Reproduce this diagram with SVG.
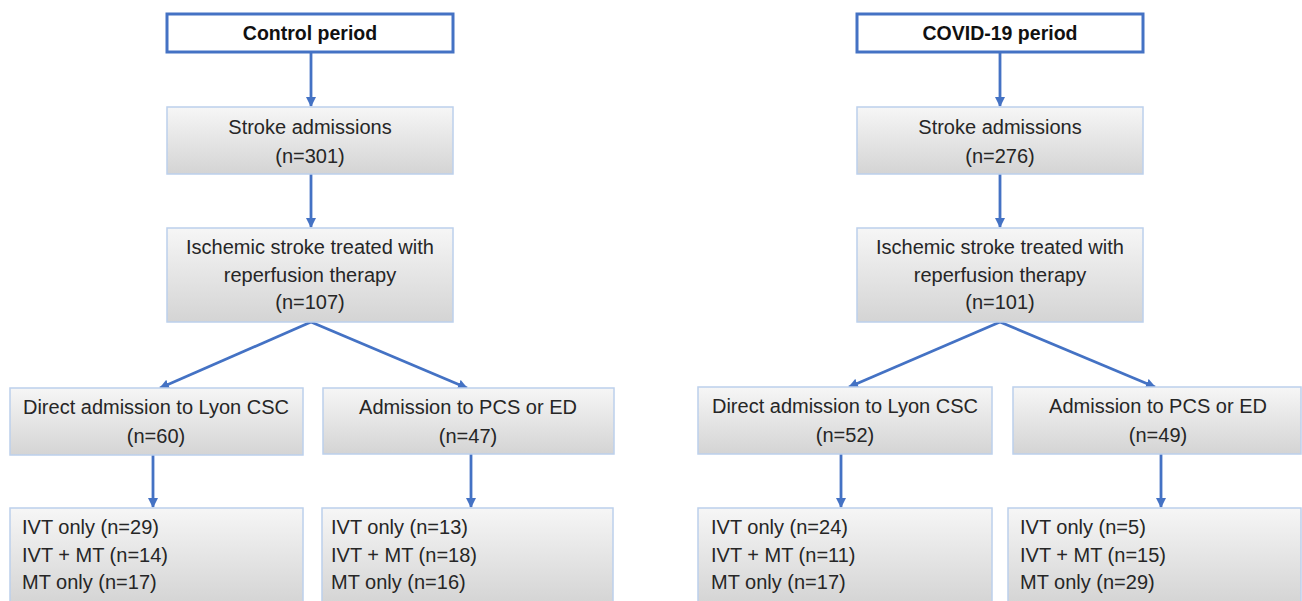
<svg xmlns="http://www.w3.org/2000/svg" width="1302" height="601" viewBox="0 0 1302 601">
<defs>
<linearGradient id="g" x1="0" y1="0" x2="0" y2="1">
<stop offset="0" stop-color="#f6f6f6"/>
<stop offset="1" stop-color="#d4d4d4"/>
</linearGradient>
<marker id="ah" markerWidth="10" markerHeight="10" refX="9" refY="5" orient="auto" markerUnits="userSpaceOnUse">
<path d="M0,0 L10,5 L0,10 Z" fill="#4472c4"/>
</marker>
<style>
.hdr{fill:#ffffff;stroke:#4472c4;stroke-width:3}
.box{fill:url(#g);stroke:#bcd0ec;stroke-width:1.5}
.t{font-family:"Liberation Sans",Arial,sans-serif;font-size:20px;fill:#262626}
.c{text-anchor:middle}
.b{font-weight:bold;font-size:19.5px;fill:#111}
.cn{stroke:#4472c4;stroke-width:2.8;fill:none;marker-end:url(#ah)}
</style>
</defs>
<rect width="1302" height="601" fill="#ffffff"/>

<g id="connectors">
<line class="cn" x1="311" y1="52" x2="311" y2="106"/>
<line class="cn" x1="311" y1="174" x2="311" y2="227"/>
<line class="cn" x1="311" y1="322" x2="160" y2="388"/>
<line class="cn" x1="311" y1="322" x2="467" y2="388"/>
<line class="cn" x1="153" y1="455" x2="153" y2="507"/>
<line class="cn" x1="471" y1="454" x2="471" y2="507"/>
<line class="cn" x1="1000" y1="52" x2="1000" y2="106"/>
<line class="cn" x1="1000" y1="174" x2="1000" y2="227"/>
<line class="cn" x1="1000" y1="322" x2="849" y2="387"/>
<line class="cn" x1="1000" y1="322" x2="1155" y2="387"/>
<line class="cn" x1="841" y1="454" x2="841" y2="507"/>
<line class="cn" x1="1161" y1="454" x2="1161" y2="507"/>
</g>

<g id="control-period">
<rect class="hdr" x="167" y="14" width="286" height="38"/>
<text class="t c b" x="310" y="40">Control period</text>
</g>
<g id="control-stroke">
<rect class="box" x="167" y="107" width="286" height="67"/>
<text class="t c" x="310" y="134">Stroke admissions</text>
<text class="t c" x="310" y="163">(n=301)</text>
</g>
<g id="control-ischemic">
<rect class="box" x="167" y="228" width="286" height="94"/>
<text class="t c" x="310" y="254">Ischemic stroke treated with</text>
<text class="t c" x="310" y="282">reperfusion therapy</text>
<text class="t c" x="310" y="309">(n=107)</text>
</g>
<g id="control-direct">
<rect class="box" x="10" y="388" width="293" height="67"/>
<text class="t c" x="156" y="414">Direct admission to Lyon CSC</text>
<text class="t c" x="156" y="443">(n=60)</text>
</g>
<g id="control-pcs">
<rect class="box" x="323" y="388" width="291" height="66"/>
<text class="t c" x="468" y="414">Admission to PCS or ED</text>
<text class="t c" x="468" y="443">(n=47)</text>
</g>
<g id="control-direct-tx">
<rect class="box" x="10" y="508" width="293" height="96"/>
<text class="t" x="22" y="534">IVT only (n=29)</text>
<text class="t" x="22" y="562">IVT + MT (n=14)</text>
<text class="t" x="22" y="589">MT only (n=17)</text>
</g>
<g id="control-pcs-tx">
<rect class="box" x="322" y="508" width="291" height="96"/>
<text class="t" x="331" y="534">IVT only (n=13)</text>
<text class="t" x="331" y="562">IVT + MT (n=18)</text>
<text class="t" x="331" y="589">MT only (n=16)</text>
</g>

<g id="covid-period">
<rect class="hdr" x="857" y="14" width="286" height="38"/>
<text class="t c b" x="1000" y="40">COVID-19 period</text>
</g>
<g id="covid-stroke">
<rect class="box" x="857" y="107" width="286" height="67"/>
<text class="t c" x="1000" y="134">Stroke admissions</text>
<text class="t c" x="1000" y="163">(n=276)</text>
</g>
<g id="covid-ischemic">
<rect class="box" x="857" y="228" width="286" height="94"/>
<text class="t c" x="1000" y="254">Ischemic stroke treated with</text>
<text class="t c" x="1000" y="282">reperfusion therapy</text>
<text class="t c" x="1000" y="309">(n=101)</text>
</g>
<g id="covid-direct">
<rect class="box" x="698" y="387" width="294" height="67"/>
<text class="t c" x="845" y="413">Direct admission to Lyon CSC</text>
<text class="t c" x="845" y="442">(n=52)</text>
</g>
<g id="covid-pcs">
<rect class="box" x="1013" y="387" width="288" height="67"/>
<text class="t c" x="1158" y="413">Admission to PCS or ED</text>
<text class="t c" x="1158" y="442">(n=49)</text>
</g>
<g id="covid-direct-tx">
<rect class="box" x="698" y="508" width="294" height="96"/>
<text class="t" x="711" y="534">IVT only (n=24)</text>
<text class="t" x="711" y="562">IVT + MT (n=11)</text>
<text class="t" x="711" y="589">MT only (n=17)</text>
</g>
<g id="covid-pcs-tx">
<rect class="box" x="1008" y="508" width="293" height="96"/>
<text class="t" x="1020" y="534">IVT only (n=5)</text>
<text class="t" x="1020" y="562">IVT + MT (n=15)</text>
<text class="t" x="1020" y="589">MT only (n=29)</text>
</g>
</svg>
